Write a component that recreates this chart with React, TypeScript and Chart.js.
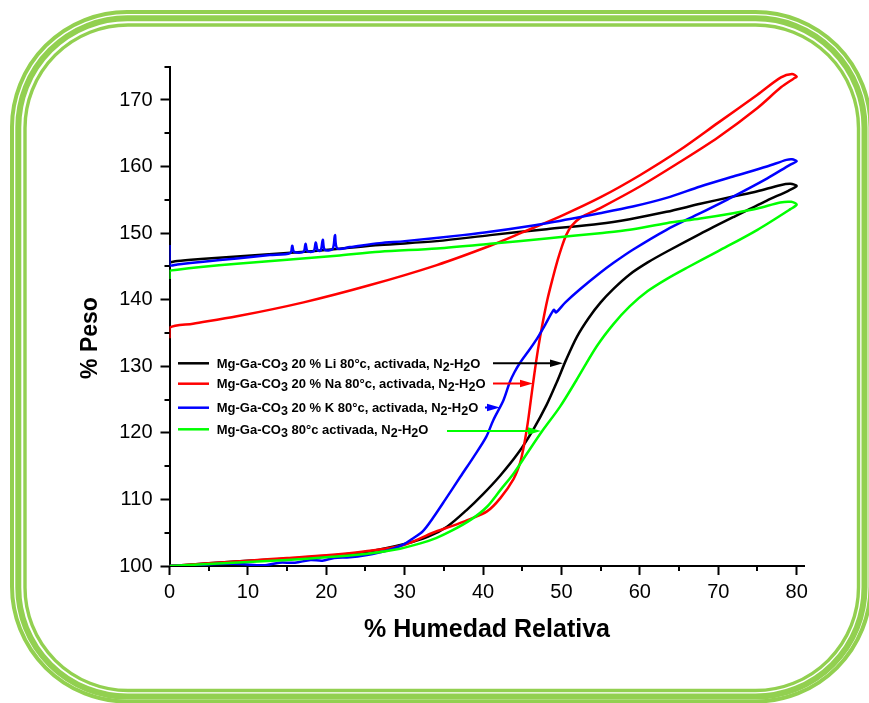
import React, { useEffect, useRef } from "react";
import { Chart, registerables } from "chart.js";

Chart.register(...registerables);

const W = 869;
const H = 703;
const FONT = '"Liberation Sans", Arial, Helvetica, sans-serif';

// ---- Data (% Humedad Relativa vs % Peso), adsorption then desorption ----
const liX = [0, 5, 10, 15, 20, 25, 30, 33, 35.4, 37.9, 40, 42.2, 44.5, 46.4, 48.1, 49.4, 50.6, 52, 53.5, 55, 56.6, 58.7, 61, 63.4, 67.7, 71.9, 76.2, 79, 80,
  79.2, 77.9, 75, 71.9, 67.7, 63.4, 58.7, 54.9, 48.1, 40.9, 34.1, 26.8, 21.3, 15, 8.6, 4, 1, 0];
const liY = [100, 100.4, 100.8, 101.1, 101.5, 102.1, 103.3, 104.4, 105.9, 108.4, 110.8, 113.6, 117, 120.5, 124.2, 127.6, 131, 134.5, 137.3, 139.6, 141.6, 143.8, 145.6, 147.2, 149.9, 152.4, 154.9, 156.4, 157.1,
  157.4, 157.2, 156.3, 155.5, 154.4, 153.2, 152.1, 151.4, 150.6, 149.7, 148.8, 148.2, 147.6, 147, 146.5, 146.1, 145.8, 145.6];

const naX = [0, 5, 10, 15, 20, 25, 30, 33.6, 36, 38, 40.5, 42.2, 43.9, 44.7, 45.2, 45.7, 46.1, 46.5, 47, 47.6, 48.2, 48.9, 49.5, 50, 50.6, 51.3, 52.4, 55, 60, 65, 70, 75, 78, 79.6, 80,
  79.4, 78, 75, 70, 65, 60, 55, 50, 45, 40.9, 34.1, 25.6, 17.1, 8.6, 3, 0, 0];
const naY = [100, 100.4, 100.8, 101.2, 101.6, 102.2, 103.2, 105, 106, 106.9, 108.2, 110.2, 113.1, 115.4, 118, 121.5, 125, 128.5, 132.5, 136.5, 140, 143.3, 145.9, 147.8, 149.7, 151.1, 152.3, 153.8, 157, 160.6, 164.4, 168.8, 171.9, 173.2, 173.5,
  173.9, 173.4, 170.8, 166.6, 162.4, 158.7, 155.4, 152.6, 150.1, 148.1, 145.2, 142.2, 139.6, 137.5, 136.4, 135.8, 134.2];

const kX = [0, 3, 6, 9, 12, 14, 16, 18, 19.5, 21, 23, 25, 27, 28.5, 29.8, 31, 32.3, 33.6, 35.2, 37.1, 38.8, 40.4, 41.3, 42.6, 43.4, 44, 44.7, 45.8, 46.8, 47.9, 48.7, 49.05, 49.3, 50.5, 52.4, 54.9, 56.6, 59.1, 63.4, 67.7, 71.9, 76.2, 79.2, 80,
  79.4, 78.7, 76.2, 71.9, 67.7, 63.4, 59.1, 54.9, 48.1, 40.9, 37.4, 30, 26.8, 23, 21.4, 21.1, 20.8, 19.8, 19.55, 19.3, 18.9, 18.65, 18.4, 17.6, 17.35, 17.1, 15.9, 15.65, 15.4, 12.8, 8.6, 4.3, 1, 0, 0];
const kY = [100, 100.1, 100.3, 100.3, 100.1, 100.5, 100.5, 100.9, 100.8, 101.2, 101.3, 101.6, 102.1, 102.6, 103.2, 104.1, 105.2, 107.2, 110, 113.4, 116.4, 119.4, 121.9, 124.9, 127.6, 129.1, 130.5, 132.3, 134, 136.2, 137.9, 138.5, 138.1, 139.6, 141.6, 144, 145.5, 147.5, 150.5, 153, 155.5, 158.2, 160.3, 160.8,
  161.1, 161, 160, 158.5, 157, 155.3, 154, 153, 151.5, 150.2, 149.7, 148.8, 148.5, 147.9, 147.7, 149.7, 147.6, 147.5, 149, 147.4, 147.4, 148.6, 147.3, 147.3, 148.4, 147.2, 147.2, 148.1, 147.0, 146.7, 146.2, 145.7, 145.3, 145.2, 148.2];

const gX = [0, 5, 10, 15, 20, 25, 29.4, 32, 34, 36, 38.5, 40.5, 42.2, 43.9, 45.6, 47.5, 49.8, 51.9, 54.5, 56.6, 58.7, 61, 63.4, 66, 70, 75, 79.2, 80,
  79.3, 77.9, 75, 71.9, 67.7, 63.4, 58.7, 54.9, 48.1, 40.9, 34.1, 26.8, 21.3, 15, 8.6, 4, 1, 0, 0];
const gY = [100, 100.3, 100.6, 100.9, 101.3, 101.8, 102.6, 103.4, 104.2, 105.3, 107, 108.9, 111.4, 113.9, 116.9, 120.2, 123.9, 127.9, 133, 136.3, 139, 141.3, 143.1, 144.8, 147.3, 150.5, 153.6, 154.3,
  154.7, 154.6, 153.7, 153, 152.2, 151.5, 150.5, 150, 149.2, 148.4, 147.7, 147.2, 146.6, 146, 145.4, 144.9, 144.5, 144.3, 143.1];

const seriesLabels = [
  "Mg-Ga-CO₃ 20 % Li 80°c, activada, N₂-H₂O",
  "Mg-Ga-CO₃ 20 % Na 80°c, activada, N₂-H₂O",
  "Mg-Ga-CO₃ 20 % K 80°c, activada, N₂-H₂O",
  "Mg-Ga-CO₃ 80°c activada, N₂-H₂O",
];
const seriesColors = ["#000000", "#FF0000", "#0000FF", "#00FF00"];
const xTickValues = [0, 5, 10, 15, 20, 25, 30, 35, 40, 45, 50, 55, 60, 65, 70, 75, 80];
const yTickValues = [100, 105, 110, 115, 120, 125, 130, 135, 140, 145, 150, 155, 160, 165, 170, 175];
const xTitle = "% Humedad Relativa";
const yTitle = "% Peso";

const toPts = (xs: number[], ys: number[]) => xs.map((x, i) => ({ x, y: ys[i] }));

function roundRectPath(ctx: CanvasRenderingContext2D, l: number, t: number, r: number, b: number, rad: number) {
  ctx.beginPath();
  ctx.moveTo(l + rad, t);
  ctx.lineTo(r - rad, t);
  ctx.arcTo(r, t, r, t + rad, rad);
  ctx.lineTo(r, b - rad);
  ctx.arcTo(r, b, r - rad, b, rad);
  ctx.lineTo(l + rad, b);
  ctx.arcTo(l, b, l, b - rad, rad);
  ctx.lineTo(l, t + rad);
  ctx.arcTo(l, t, l + rad, t, rad);
  ctx.closePath();
}

const framePlugin = {
  id: "frame",
  beforeDraw(chart: any) {
    const ctx: CanvasRenderingContext2D = chart.ctx;
    ctx.save();
    ctx.fillStyle = "#ffffff";
    ctx.fillRect(0, 0, chart.width, chart.height);
    ctx.strokeStyle = "#92D050";
    const frames = [
      [12, 12, 870.5, 701.5, 115, 4],
      [18.3, 18.3, 864.5, 696.5, 109, 6],
      [25, 25, 858.5, 690.5, 103, 3.4],
    ];
    for (const f of frames) {
      ctx.lineWidth = f[5];
      roundRectPath(ctx, f[0], f[1], f[2], f[3], f[4]);
      ctx.stroke();
    }
    ctx.restore();
  },
};

const SUBS: Record<string, string> = { "₂": "2", "₃": "3" };

function drawRich(ctx: CanvasRenderingContext2D, text: string, x: number, yMid: number) {
  const base = yMid + 4.6;
  let cx = x;
  let buf = "";
  const flush = () => {
    if (!buf) return;
    ctx.font = `bold 13px ${FONT}`;
    ctx.fillText(buf, cx, base);
    cx += ctx.measureText(buf).width;
    buf = "";
  };
  for (const ch of text) {
    if (SUBS[ch]) {
      flush();
      ctx.font = `bold 12.5px ${FONT}`;
      ctx.fillText(SUBS[ch], cx, base + 3);
      cx += ctx.measureText(SUBS[ch]).width;
    } else {
      buf += ch;
    }
  }
  flush();
}

const overlayPlugin = {
  id: "overlay",
  afterDraw(chart: any) {
    const ctx: CanvasRenderingContext2D = chart.ctx;
    const xs = chart.scales.x;
    const ys = chart.scales.y;
    const area = chart.chartArea;
    ctx.save();
    // minor ticks
    ctx.strokeStyle = "#000";
    ctx.lineWidth = 2;
    ctx.beginPath();
    for (const v of xTickValues) {
      if (v % 10 === 0) continue;
      const px = Math.round(xs.getPixelForValue(v));
      ctx.moveTo(px, area.bottom);
      ctx.lineTo(px, area.bottom + 5);
    }
    for (const v of yTickValues) {
      if (v % 10 === 0) continue;
      const py = Math.round(ys.getPixelForValue(v));
      ctx.moveTo(area.left - 5, py);
      ctx.lineTo(area.left, py);
    }
    ctx.stroke();

    // y title
    ctx.save();
    ctx.translate(91, 338);
    ctx.rotate(-Math.PI / 2);
    ctx.font = `bold 23px ${FONT}`;
    ctx.fillStyle = "#000";
    ctx.textAlign = "center";
    ctx.textBaseline = "middle";
    ctx.fillText(yTitle, 0, 0);
    ctx.restore();

    // legend
    const rows = [363.3, 383.7, 407.7, 429.3];
    ctx.textAlign = "left";
    ctx.textBaseline = "alphabetic";
    seriesLabels.forEach((lab, i) => {
      ctx.strokeStyle = seriesColors[i];
      ctx.lineWidth = 2.5;
      ctx.beginPath();
      ctx.moveTo(178, rows[i]);
      ctx.lineTo(209, rows[i]);
      ctx.stroke();
      ctx.fillStyle = "#000";
      drawRich(ctx, lab, 216.7, rows[i]);
    });

    // arrows
    const arrows = [
      { x1: 493, x2: 563, y: 363.3 },
      { x1: 493, x2: 533, y: 383.5 },
      { x1: 485, x2: 500, y: 407.5 },
      { x1: 447, x2: 541, y: 431 },
    ];
    arrows.forEach((a, i) => {
      const c = seriesColors[i];
      const hl = 13;
      ctx.strokeStyle = c;
      ctx.fillStyle = c;
      ctx.lineWidth = 2;
      ctx.beginPath();
      ctx.moveTo(a.x1, a.y);
      ctx.lineTo(a.x2 - hl + 1, a.y);
      ctx.stroke();
      ctx.beginPath();
      ctx.moveTo(a.x2, a.y);
      ctx.lineTo(a.x2 - hl, a.y - 3.8);
      ctx.lineTo(a.x2 - hl, a.y + 3.8);
      ctx.closePath();
      ctx.fill();
    });
    ctx.restore();
  },
};

export default function App() {
  const ref = useRef<HTMLCanvasElement>(null);

  useEffect(() => {
    if (!ref.current) return;
    const series = [toPts(liX, liY), toPts(naX, naY), toPts(kX, kY), toPts(gX, gY)];
    const orders = [3, 2, 1, 0];
    const chart = new Chart(ref.current, {
      type: "scatter",
      data: {
        datasets: series.map((d, i) => ({
          label: seriesLabels[i],
          data: d,
          showLine: true,
          borderColor: seriesColors[i],
          backgroundColor: seriesColors[i],
          borderWidth: 2.5,
          pointRadius: 0,
          tension: 0.3,
          order: orders[i],
        })),
      },
      options: {
        responsive: false,
        maintainAspectRatio: false,
        devicePixelRatio: 1,
        animation: false,
        events: [],
        layout: { padding: { left: 0, right: 64.5, top: 66.7, bottom: 0 } },
        plugins: {
          legend: { display: false },
          tooltip: { enabled: false },
        },
        scales: {
          x: {
            type: "linear",
            min: 0,
            max: 81,
            afterFit: (s: any) => { s.height = 137; },
            afterBuildTicks: (s: any) => { s.ticks = xTickValues.map((v) => ({ value: v })); },
            border: { display: true, color: "#000", width: 2 },
            grid: {
              display: true,
              drawOnChartArea: false,
              drawTicks: true,
              tickLength: 9,
              tickWidth: 2,
              tickColor: (c: any) => (c.tick && c.tick.value % 10 === 0 ? "#000" : "rgba(0,0,0,0)"),
            },
            ticks: {
              autoSkip: false,
              maxRotation: 0,
              minRotation: 0,
              padding: 5,
              color: "#000",
              font: { family: FONT, size: 20 },
              callback: (v: any) => (Number(v) % 10 === 0 ? String(v) : ""),
            },
            title: {
              display: true,
              text: xTitle,
              color: "#000",
              font: { family: FONT, size: 25, weight: "bold" },
              padding: { top: 0, bottom: 58 },
            },
          },
          y: {
            type: "linear",
            min: 100,
            max: 175,
            afterFit: (s: any) => { s.width = 169.5; },
            afterBuildTicks: (s: any) => { s.ticks = yTickValues.map((v) => ({ value: v })); },
            border: { display: true, color: "#000", width: 2 },
            grid: {
              display: true,
              drawOnChartArea: false,
              drawTicks: true,
              tickLength: 9,
              tickWidth: 2,
              tickColor: (c: any) => (c.tick && c.tick.value % 10 === 0 ? "#000" : "rgba(0,0,0,0)"),
            },
            ticks: {
              autoSkip: false,
              padding: 8,
              color: "#000",
              font: { family: FONT, size: 20 },
              callback: (v: any) => (Number(v) % 10 === 0 ? String(v) : ""),
            },
            title: { display: false, text: yTitle },
          },
        },
      },
      plugins: [framePlugin, overlayPlugin],
    } as any);
    return () => chart.destroy();
  }, []);

  return (
    <div style={{ position: "fixed", left: 0, top: 0, width: W, height: H, background: "#fff" }}>
      <canvas ref={ref} width={W} height={H} style={{ display: "block", width: W, height: H }} />
    </div>
  );
}
